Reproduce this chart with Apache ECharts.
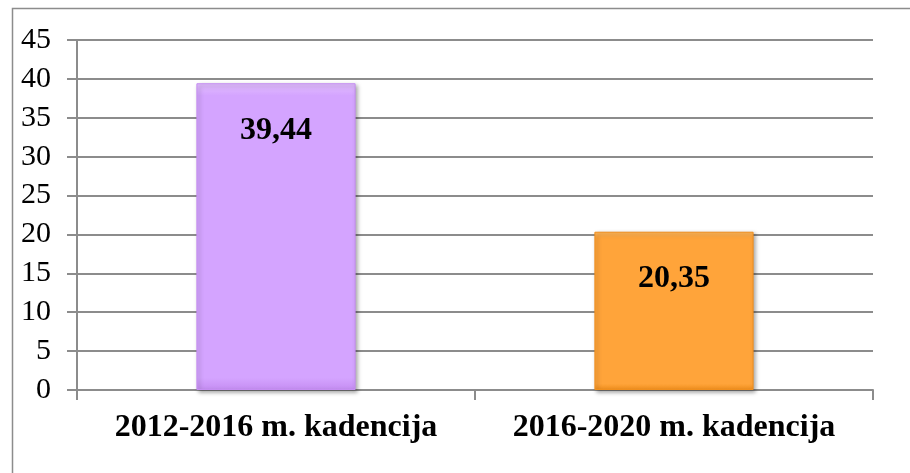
<!DOCTYPE html>
<html>
<head>
<meta charset="utf-8">
<script src="https://cdn.jsdelivr.net/npm/echarts@6/dist/echarts.min.js"></script>
<style>
  * { margin: 0; padding: 0; }
  html, body { background: #fff; }
  #chart { width: 910px; height: 473px; }
</style>
</head>
<body>
<div id="chart"></div>
<script>
// data
const categories = ["2012-2016 m. kadencija", "2016-2020 m. kadencija"];
const values = [39.44, 20.35];
const valueLabels = ["39,44", "20,35"];
const barColors = [
  ["#E3BFFF", "#D4A4FF", "#C58DF2"], // purple
  ["#FFB85C", "#FFA43A", "#F08E1C"], // orange
];

const serif = '"Liberation Serif", "Times New Roman", serif';

const chart = echarts.init(document.getElementById("chart"), null, { renderer: "canvas" });

const option = {
  animation: false,
  backgroundColor: "#fff",
  graphic: [
    {
      // outer frame of the chart area (only top/left visible)
      type: "rect",
      shape: { x: 12.5, y: 8.5, width: 1200, height: 800 },
      style: { fill: "none", stroke: "#8c8c8c", lineWidth: 1.5 },
      silent: true,
    },
  ],
  grid: { left: 77, right: 37, top: 40, bottom: 83 },
  xAxis: {
    type: "category",
    data: categories,
    axisLine: { lineStyle: { color: "#8c8c8c", width: 2 } },
    axisTick: { show: true, length: 10, lineStyle: { color: "#8c8c8c", width: 2 } },
    axisLabel: {
      interval: 0,
      color: "#000",
      fontFamily: serif,
      fontWeight: "bold",
      fontSize: 32,
      margin: 22,
    },
  },
  yAxis: {
    type: "value",
    min: 0,
    max: 45,
    interval: 5,
    axisLine: { show: true, lineStyle: { color: "#8c8c8c", width: 2 } },
    axisTick: { show: true, length: 10, lineStyle: { color: "#8c8c8c", width: 2 } },
    splitLine: { lineStyle: { color: "#8c8c8c", width: 2 } },
    axisLabel: {
      color: "#000",
      fontFamily: serif,
      fontSize: 30,
      margin: 26,
    },
  },
  series: [
    {
      type: "bar",
      barWidth: "40%",
      data: values.map((v, i) => ({
        value: v,
        itemStyle: {
          color: new echarts.graphic.LinearGradient(0, 0, 0, 1, [
            { offset: 0, color: barColors[i][0] },
            { offset: 0.04, color: barColors[i][1] },
            { offset: 0.96, color: barColors[i][1] },
            { offset: 1, color: barColors[i][2] },
          ]),
          borderColor: barColors[i][2],
          borderWidth: 1,
          shadowColor: "rgba(0,0,0,0.35)",
          shadowBlur: 4,
          shadowOffsetX: 2,
          shadowOffsetY: 2,
        },
      })),
      label: {
        show: true,
        position: "insideTop",
        distance: 31,
        formatter: (p) => valueLabels[p.dataIndex],
        color: "#000",
        fontFamily: serif,
        fontWeight: "bold",
        fontSize: 32,
      },
    },
  ],
};

chart.setOption(option);
window.addEventListener("resize", chart.resize);
</script>
</body>
</html>
